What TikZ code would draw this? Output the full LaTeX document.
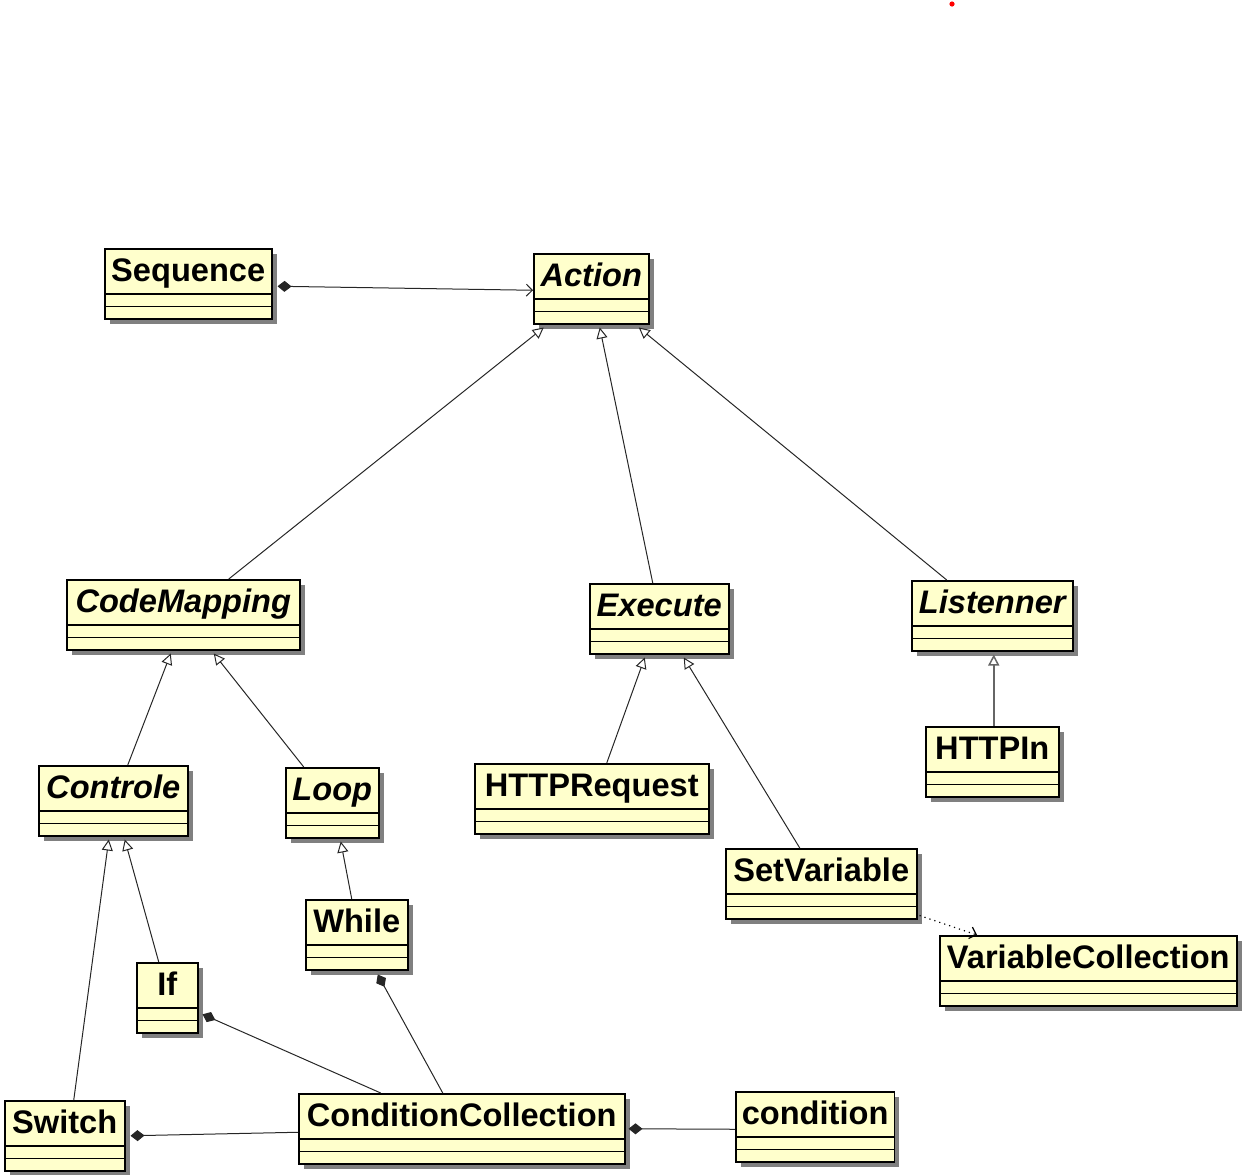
\documentclass[tikz,border=0pt]{standalone}
\usepackage{fontspec}
\setmainfont{Liberation Sans}
\usetikzlibrary{shadows,arrows.meta}
\definecolor{umlgelb}{RGB}{255,255,204}
\tikzset{
	klasse/.style={draw, line width=0.75pt, fill=umlgelb, anchor=north west,
		inner ysep=0pt, inner xsep=3pt, text height=16.5pt, text depth=18.5pt,
		font=\bfseries\fontsize{16.3}{18}\selectfont,
		path picture={
			\draw[line width=0.75pt] ([yshift=6.25pt]path picture bounding box.south west) -- ([yshift=6.25pt]path picture bounding box.south east);
			\draw[line width=0.75pt] ([yshift=12.5pt]path picture bounding box.south west) -- ([yshift=12.5pt]path picture bounding box.south east);
		},
		drop shadow={shadow xshift=2.5pt, shadow yshift=-2.5pt, fill=black!50, opacity=1}},
	abstrakt/.style={klasse, font=\bfseries\itshape\fontsize{16.3}{18}\selectfont},
	verbindung/.style={line width=0.5pt, draw=black!85},
	erbt/.style={verbindung, -{Triangle[open, length=5.5pt, width=5.5pt]}},
	teil/.style={verbindung, {Diamond[length=7pt, width=5.5pt]}-},
	kennt/.style={verbindung, -{Straight Barb[length=3pt, width=6pt]}}
}
\begin{document}
\begin{tikzpicture}[x=0.5pt, y=-0.5pt]
	\useasboundingbox (0,0) rectangle (1246,1174);
	\fill[red] (952,4) circle (1.3pt);

	% Klassen oben
	\node[klasse, minimum width=83.5pt] (sequence) at (104,248) {Sequence};
	\node[abstrakt, minimum width=57.5pt] (action) at (533,253) {Action};

	% Zweite Ebene
	\node[abstrakt, minimum width=116.5pt] (codemapping) at (66,579) {CodeMapping};
	\node[abstrakt, minimum width=69.5pt] (execute) at (589,583) {Execute};
	\node[abstrakt, minimum width=80.5pt] (listenner) at (911,580) {Listenner};

	% Dritte Ebene
	\node[abstrakt, minimum width=74.5pt] (controle) at (38,765) {Controle};
	\node[abstrakt, minimum width=46.5pt] (loop) at (285,767) {Loop};
	\node[klasse, minimum width=117pt] (httprequest) at (474,763) {HTTPRequest};
	\node[klasse, minimum width=66.5pt] (httpin) at (925,726) {HTTPIn};
	\node[klasse, minimum width=95.5pt] (setvariable) at (725,848) {SetVariable};
	\node[klasse, minimum width=148.5pt] (variablecollection) at (939,935) {VariableCollection};

	% Unten
	\node[klasse, minimum width=51pt] (while) at (305,899) {While};
	\node[klasse, minimum width=30.5pt] (if) at (136,962) {If};
	\node[klasse, minimum width=60pt] (switch) at (4,1100) {Switch};
	\node[klasse, minimum width=163pt] (conditioncollection) at (298,1093) {ConditionCollection};
	\node[klasse, minimum width=79pt] (condition) at (735,1091) {condition};

	% Vererbung
	\draw[erbt] ([xshift=22.75pt]codemapping.north) -- ([xshift=-23.75pt, yshift=-1.5pt]action.south);
	\draw[erbt] ([xshift=-3.25pt]execute.north) -- ([xshift=4.25pt, yshift=-1.5pt]action.south);
	\draw[erbt] ([xshift=-22.75pt]listenner.north) -- ([xshift=23.75pt, yshift=-1.5pt]action.south);
	\draw[erbt] ([xshift=7.25pt]controle.north) -- ([xshift=-6.25pt, yshift=-1.5pt]codemapping.south);
	\draw[erbt] ([xshift=-14.25pt]loop.north) -- ([xshift=15.25pt, yshift=-1.5pt]codemapping.south);
	\draw[erbt] ([xshift=7.5pt]httprequest.north) -- ([xshift=-7.25pt, yshift=-1.5pt]execute.south);
	\draw[erbt] ([xshift=-10.75pt]setvariable.north) -- ([xshift=12.25pt, yshift=-1.5pt]execute.south);
	\draw[erbt, draw=black!60, line width=0.75pt] ([xshift=0.75pt]httpin.north) -- ([xshift=0.75pt, yshift=-1.5pt]listenner.south);
	\draw[erbt] ([xshift=4.5pt]switch.north) -- ([xshift=-2.25pt, yshift=-1.5pt]controle.south);
	\draw[erbt] ([xshift=-4.25pt]if.north) -- ([xshift=5.75pt, yshift=-1.5pt]controle.south);
	\draw[erbt] ([xshift=-2.5pt]while.north) -- ([xshift=4.25pt, yshift=-1.5pt]loop.south);

	% Assoziationen
	\draw[verbindung, {Diamond[length=7pt, width=5.5pt]}-{Straight Barb[length=3pt, width=6pt]}] ([xshift=2.5pt, yshift=-1.25pt]sequence.east) -- ([yshift=-0.75pt]action.west);
	\draw[kennt, draw=black, line width=0.6pt, dotted] ([xshift=1pt, yshift=2pt]setvariable.south east) -- ([xshift=19pt]variablecollection.north west);
	\draw[teil] ([xshift=2pt, yshift=-8.25pt]if.east) -- ([xshift=-40.5pt]conditioncollection.north);
	\draw[teil] ([xshift=10.5pt, yshift=-2pt]while.south) -- ([xshift=-9.5pt]conditioncollection.north);
	\draw[teil] ([xshift=2.5pt]switch.east) -- ([yshift=-1.75pt]conditioncollection.west);
	\draw[teil] ([xshift=1.5pt]conditioncollection.east) -- ([yshift=-1.25pt]condition.west);
\end{tikzpicture}
\end{document}
